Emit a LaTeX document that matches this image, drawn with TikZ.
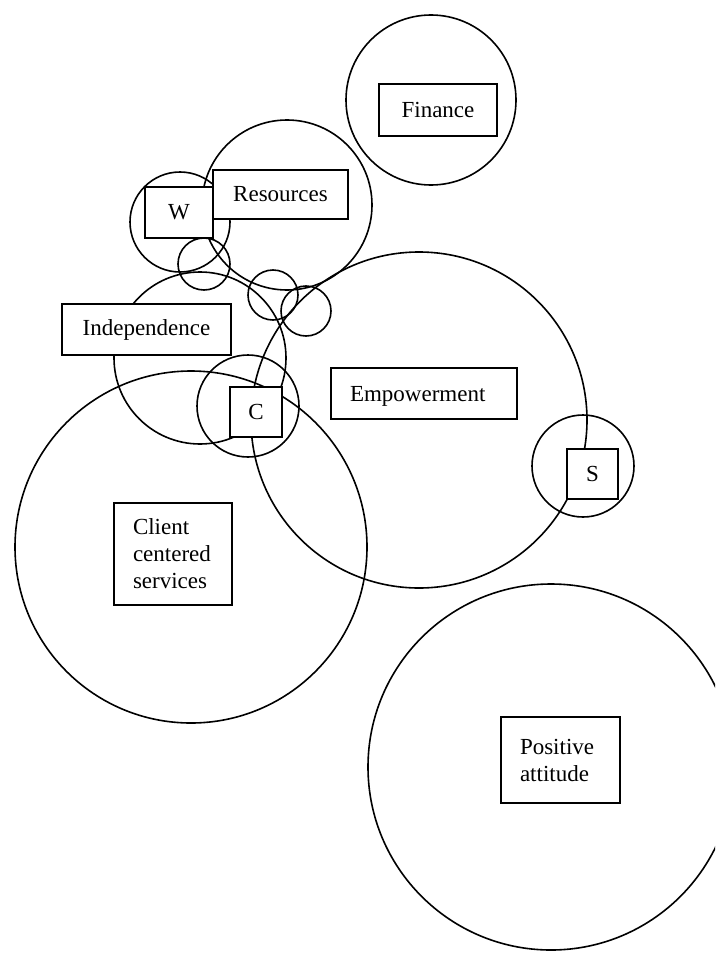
\documentclass[tikz,border=0pt]{standalone}
\usepackage{fontspec}
\setmainfont{Liberation Serif}
\begin{document}
\begin{tikzpicture}[x=1pt,y=-1pt,
  ring/.style={draw, line width=1.6pt},
  box/.style={draw, fill=white, line width=1.8pt, inner sep=0pt,
    font=\fontsize{23}{27}\selectfont},
  mbox/.style={box, align=left, inner xsep=19pt}]
\useasboundingbox (0,0) rectangle (715,955);
\clip (0,0) rectangle (715,955);
% circles
\draw[ring] (431,100) circle[radius=85pt];   % finance
\draw[ring] (287,205) circle[radius=85pt];   % resources
\draw[ring] (180,222) circle[radius=50pt];   % W
\draw[ring] (204,264) circle[radius=26pt];   % small A
\draw[ring] (273,295) circle[radius=25pt];   % small B
\draw[ring] (306,311) circle[radius=25pt];   % small D
\draw[ring] (200,358) circle[radius=86pt];   % independence
\draw[ring] (248,406) circle[radius=51pt];   % C
\draw[ring] (191,547) circle[radius=176pt];  % client
\draw[ring] (419,420) circle[radius=168pt];  % empowerment
\draw[ring] (583,466) circle[radius=51pt];   % S
\draw[ring] (551,767) circle[radius=183pt];  % positive attitude
% boxes
\node[box, minimum width=118pt, minimum height=52pt] (finance) at (438,110) {Finance};
\node[box, minimum width=135pt, minimum height=49pt] (resources) at (280.5,194.5) {Resources};
\node[box, minimum width=68pt, minimum height=51pt] (w) at (179,212.5) {W};
\node[box, minimum width=169pt, minimum height=51pt] (independence) at (146.5,329.5) {Independence};
\node[box, minimum width=52pt, minimum height=50pt] (c) at (256,412) {C};
\node[box, minimum width=186pt, minimum height=51pt, inner xsep=0pt, align=left, text width=176pt, text depth=0pt] (empowerment) at (424,393.5) {\hspace*{14pt}Empowerment};
\node[box, minimum width=51pt, minimum height=50pt] (s) at (592.5,474) {S};
\node[mbox, text width=80pt, minimum height=102pt] (client) at (173,554) {Client\\centered\\services};
\node[mbox, text width=81pt, minimum height=86pt] (positive) at (560.5,760) {Positive\\attitude};
\end{tikzpicture}
\end{document}
